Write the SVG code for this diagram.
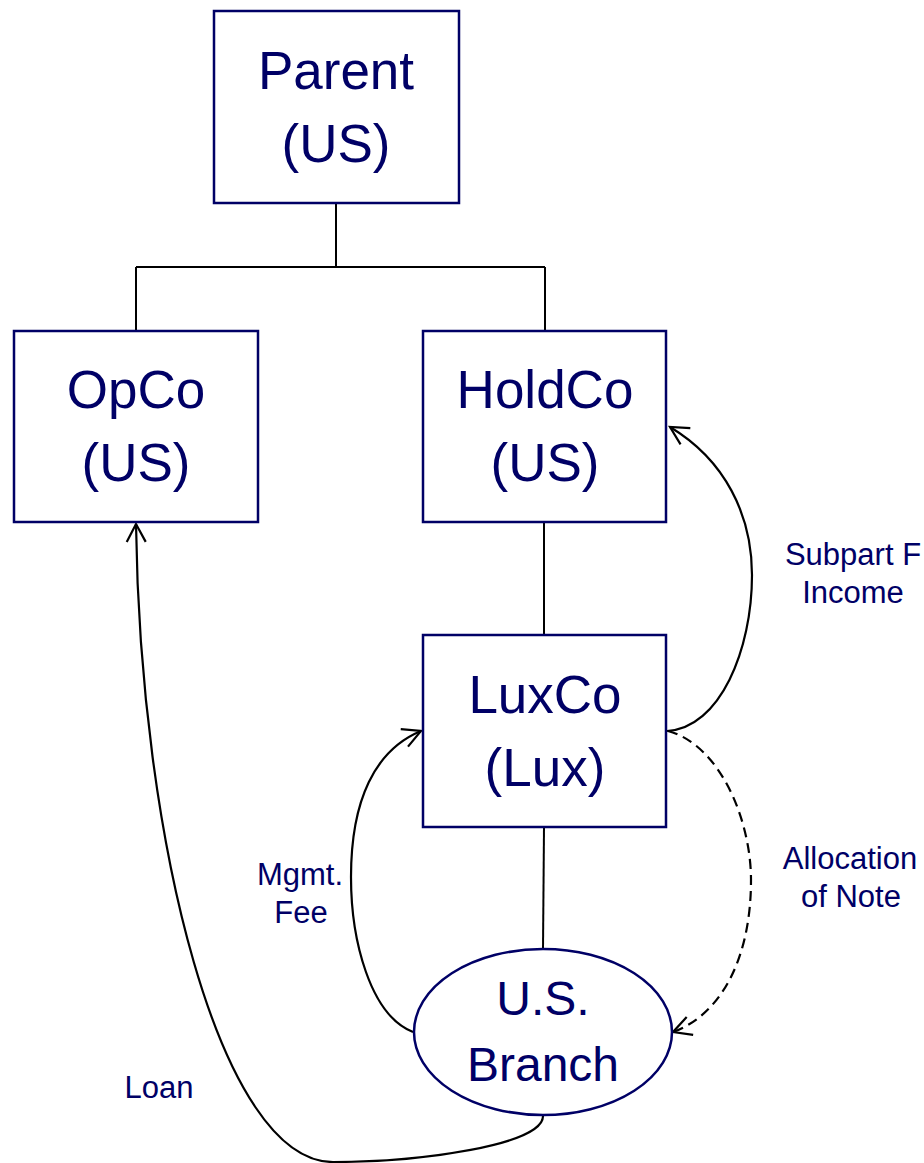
<svg xmlns="http://www.w3.org/2000/svg" width="924" height="1163" viewBox="0 0 924 1163">
<style>
.box{fill:#fff;stroke:#000066;stroke-width:2.5}
.big{font-family:"Liberation Sans",Arial,sans-serif;font-size:53px;fill:#000066;text-anchor:middle}
.mid{font-family:"Liberation Sans",Arial,sans-serif;font-size:48px;fill:#000066;text-anchor:middle}
.lbl{font-family:"Liberation Sans",Arial,sans-serif;font-size:31px;fill:#000066;text-anchor:middle}
.tree{fill:none;stroke:#000;stroke-width:2}
.flow{fill:none;stroke:#000;stroke-width:2.2}
.dash{stroke-dasharray:10,6}
</style>
<defs>
<marker id="arr" markerUnits="userSpaceOnUse" markerWidth="22" markerHeight="22" viewBox="0 0 22 22" refX="19" refY="11" orient="auto">
<path d="M1,1.5 L19,11 L1,20.5" fill="none" stroke="#000" stroke-width="2.2"/>
</marker>
</defs>
<g id="connectors">
<path class="tree" d="M336,203 V267 M136,267 H545 M136,267 V331 M545,267 V331"/>
<path class="tree" d="M544,523 V635"/>
<path class="tree" d="M544,827 L543,949"/>
<path class="flow" d="M667,731 C720,728 752,650 752,575 C752,515 725,460 670,427" marker-end="url(#arr)"/>
<path class="flow dash" d="M668,731 C720,745 751,820 751,880 C751,960 720,1015 673,1032" marker-end="url(#arr)"/>
<path class="flow" d="M413,1032 C370,1015 351,940 351,877 C351,800 375,750 421,731" marker-end="url(#arr)"/>
<path class="flow" d="M543,1116 C543,1145 420,1162 333,1162 C220,1162 140,840 136,524" marker-end="url(#arr)"/>
</g>
<g id="parent">
<rect class="box" x="214" y="11" width="245" height="192"/>
<text class="big" x="336" y="89">Parent</text>
<text class="big" x="336" y="162">(US)</text>
</g>
<g id="opco">
<rect class="box" x="14" y="331" width="244" height="191"/>
<text class="big" x="136" y="408">OpCo</text>
<text class="big" x="136" y="481">(US)</text>
</g>
<g id="holdco">
<rect class="box" x="423" y="331" width="243" height="191"/>
<text class="big" x="545" y="408">HoldCo</text>
<text class="big" x="545" y="481">(US)</text>
</g>
<g id="luxco">
<rect class="box" x="423" y="635" width="243" height="192"/>
<text class="big" x="545" y="713">LuxCo</text>
<text class="big" x="545" y="786">(Lux)</text>
</g>
<g id="branch">
<ellipse class="box" cx="543" cy="1032" rx="129" ry="83"/>
<text class="mid" x="543" y="1015">U.S.</text>
<text class="mid" x="543" y="1081">Branch</text>
</g>
<g id="labels">
<text class="lbl" x="853" y="565">Subpart F</text>
<text class="lbl" x="853" y="603">Income</text>
<text class="lbl" x="850" y="869">Allocation</text>
<text class="lbl" x="851" y="907">of Note</text>
<text class="lbl" x="300" y="885">Mgmt.</text>
<text class="lbl" x="301" y="923">Fee</text>
<text class="lbl" x="159" y="1098">Loan</text>
</g>
</svg>
